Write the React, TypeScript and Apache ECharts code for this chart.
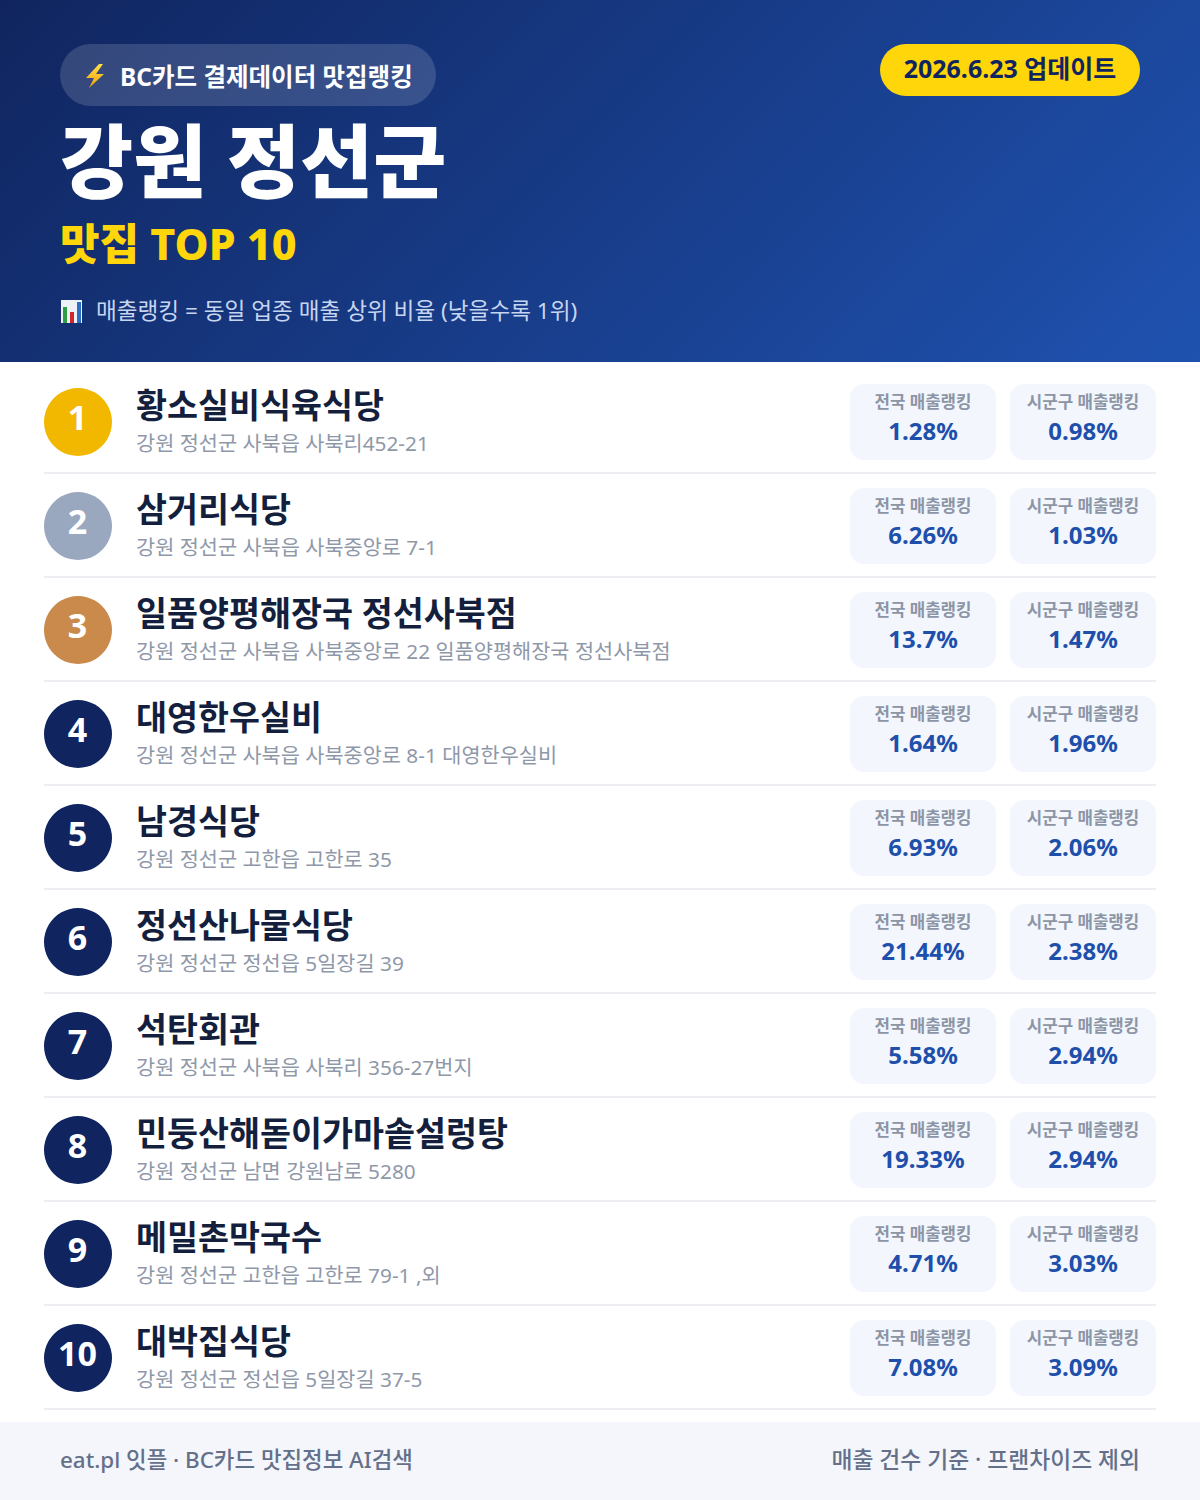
import React, { useEffect, useRef } from "react";
import * as echarts from "echarts";

const FONT = '"Noto Sans", "Noto Sans CJK KR", sans-serif';

const ranks = ["1", "2", "3", "4", "5", "6", "7", "8", "9", "10"];
const restaurantNames = [
  "황소실비식육식당",
  "삼거리식당",
  "일품양평해장국 정선사북점",
  "대영한우실비",
  "남경식당",
  "정선산나물식당",
  "석탄회관",
  "민둥산해돋이가마솥설렁탕",
  "메밀촌막국수",
  "대박집식당",
];
const addresses = [
  "강원 정선군 사북읍 사북리452-21",
  "강원 정선군 사북읍 사북중앙로 7-1",
  "강원 정선군 사북읍 사북중앙로 22 일품양평해장국 정선사북점",
  "강원 정선군 사북읍 사북중앙로 8-1 대영한우실비",
  "강원 정선군 고한읍 고한로 35",
  "강원 정선군 정선읍 5일장길 39",
  "강원 정선군 사북읍 사북리 356-27번지",
  "강원 정선군 남면 강원남로 5280",
  "강원 정선군 고한읍 고한로 79-1 ,외",
  "강원 정선군 정선읍 5일장길 37-5",
];
const nationalRanks = [1.28, 6.26, 13.7, 1.64, 6.93, 21.44, 5.58, 19.33, 4.71, 7.08];
const districtRanks = [0.98, 1.03, 1.47, 1.96, 2.06, 2.38, 2.94, 2.94, 3.03, 3.09];
const medalColors = ["#f2b800", "#9aa8bf", "#c98a4b"];
const defaultBadge = "#10245f";

const txt = (x: number, y: number, text: string, fontSize: number, fill: string, fontWeight: any, align = "left") => ({
  type: "text",
  x,
  y,
  silent: true,
  style: { text, fontSize, fill, fontWeight, fontFamily: FONT, align, verticalAlign: "middle" },
});

const renderRow = (_params: any, api: any) => {
  const i = api.value(0);
  const [, cy] = api.coord([0, i]);
  const pct = (v: number) => `${v}%`;
  const pill = (x: number, label: string, value: string) => [
    { type: "rect", shape: { x, y: cy - 38, width: 146, height: 76, r: 14 }, style: { fill: "#f3f6fd" } },
    txt(x + 73, cy - 21, label, 16.8, "#8c95a5", 700, "center"),
    txt(x + 73, cy + 8, value, 24, "#1e4fab", 700, "center"),
  ];
  return {
    type: "group",
    children: [
      { type: "rect", shape: { x: 44, y: cy + 50, width: 1112, height: 2 }, style: { fill: "#eceef2" } },
      { type: "circle", shape: { cx: 78, cy, r: 34 }, style: { fill: medalColors[i] || defaultBadge } },
      txt(77.5, cy - 5, ranks[i], 34, "#ffffff", 700, "center"),
      txt(136, cy - 17, restaurantNames[i], 33.7, "#141f3d", 700),
      txt(136, cy + 21, addresses[i], 20.8, "#8f98a9", 400),
      ...pill(850, "전국 매출랭킹", pct(nationalRanks[i])),
      ...pill(1010, "시군구 매출랭킹", pct(districtRanks[i])),
    ],
  };
};

const App: React.FC = () => {
  const chartRef = useRef<HTMLDivElement>(null);

  useEffect(() => {
    if (!chartRef.current) return;
    const chart = echarts.init(chartRef.current, undefined, { renderer: "svg" });
    chart.setOption({
      animation: false,
      backgroundColor: "#ffffff",
      grid: { left: 0, right: 0, top: 370, height: 1040 },
      xAxis: { type: "value", min: 0, max: 1200, show: false },
      yAxis: { type: "category", data: ranks, inverse: true, show: false },
      series: [
        {
          type: "custom",
          silent: true,
          clip: false,
          renderItem: renderRow,
          encode: { x: 1, y: 0 },
          data: ranks.map((_, i) => [i, 0]),
        },
      ],
      graphic: [
        {
          type: "rect",
          silent: true,
          shape: { x: 0, y: 0, width: 1200, height: 362 },
          style: {
            fill: new echarts.graphic.LinearGradient(210, -209, 990, 571, [
              { offset: 0, color: "#10255f" },
              { offset: 1, color: "#1f52b0" },
            ], true),
          },
        },
        {
          type: "rect",
          silent: true,
          shape: { x: 60, y: 44, width: 376, height: 62, r: 31 },
          style: { fill: "rgba(255,255,255,0.15)" },
        },
        {
          type: "polygon",
          silent: true,
          shape: { points: [[99, 64], [86, 78], [94, 78], [89, 88], [104, 74], [96, 74], [103, 64]] },
          style: {
            fill: new echarts.graphic.LinearGradient(0, 0, 0, 1, [
              { offset: 0, color: "#fde047" },
              { offset: 1, color: "#f59e0b" },
            ]),
          },
        },
        txt(120, 76, "BC카드 결제데이터 맛집랭킹", 24.5, "#ffffff", 700),
        { type: "rect", silent: true, shape: { x: 880, y: 44, width: 260, height: 52, r: 26 }, style: { fill: "#ffd60a" } },
        txt(1010, 68, "2026.6.23 업데이트", 25, "#10245f", 700, "center"),
        txt(60, 160, "강원 정선군", 79.5, "#ffffff", 900),
        txt(60, 243, "맛집 TOP 10", 43, "#ffd60a", 800),
        { type: "rect", silent: true, shape: { x: 61, y: 300, width: 21, height: 23 }, style: { fill: "#eef2f7" } },
        { type: "rect", silent: true, shape: { x: 63, y: 307, width: 4, height: 16 }, style: { fill: "#2e9e44" } },
        { type: "rect", silent: true, shape: { x: 70, y: 312, width: 4, height: 11 }, style: { fill: "#d3262c" } },
        { type: "rect", silent: true, shape: { x: 77, y: 302, width: 4, height: 21 }, style: { fill: "#2b6fc4" } },
        txt(96, 310, "매출랭킹 = 동일 업종 매출 상위 비율 (낮을수록 1위)", 22.6, "#c6d5f0", 400),
        { type: "rect", silent: true, shape: { x: 0, y: 1422, width: 1200, height: 78 }, style: { fill: "#f4f6fb" } },
        txt(60, 1459, "eat.pl 잇플 · BC카드 맛집정보 AI검색", 22.4, "#64708a", 500),
        txt(1140, 1459, "매출 건수 기준 · 프랜차이즈 제외", 22.8, "#64708a", 500, "right"),
      ],
    });
    return () => chart.dispose();
  }, []);

  return <div ref={chartRef} style={{ position: "absolute", left: 0, top: 0, width: 1200, height: 1500 }} />;
};

export default App;
